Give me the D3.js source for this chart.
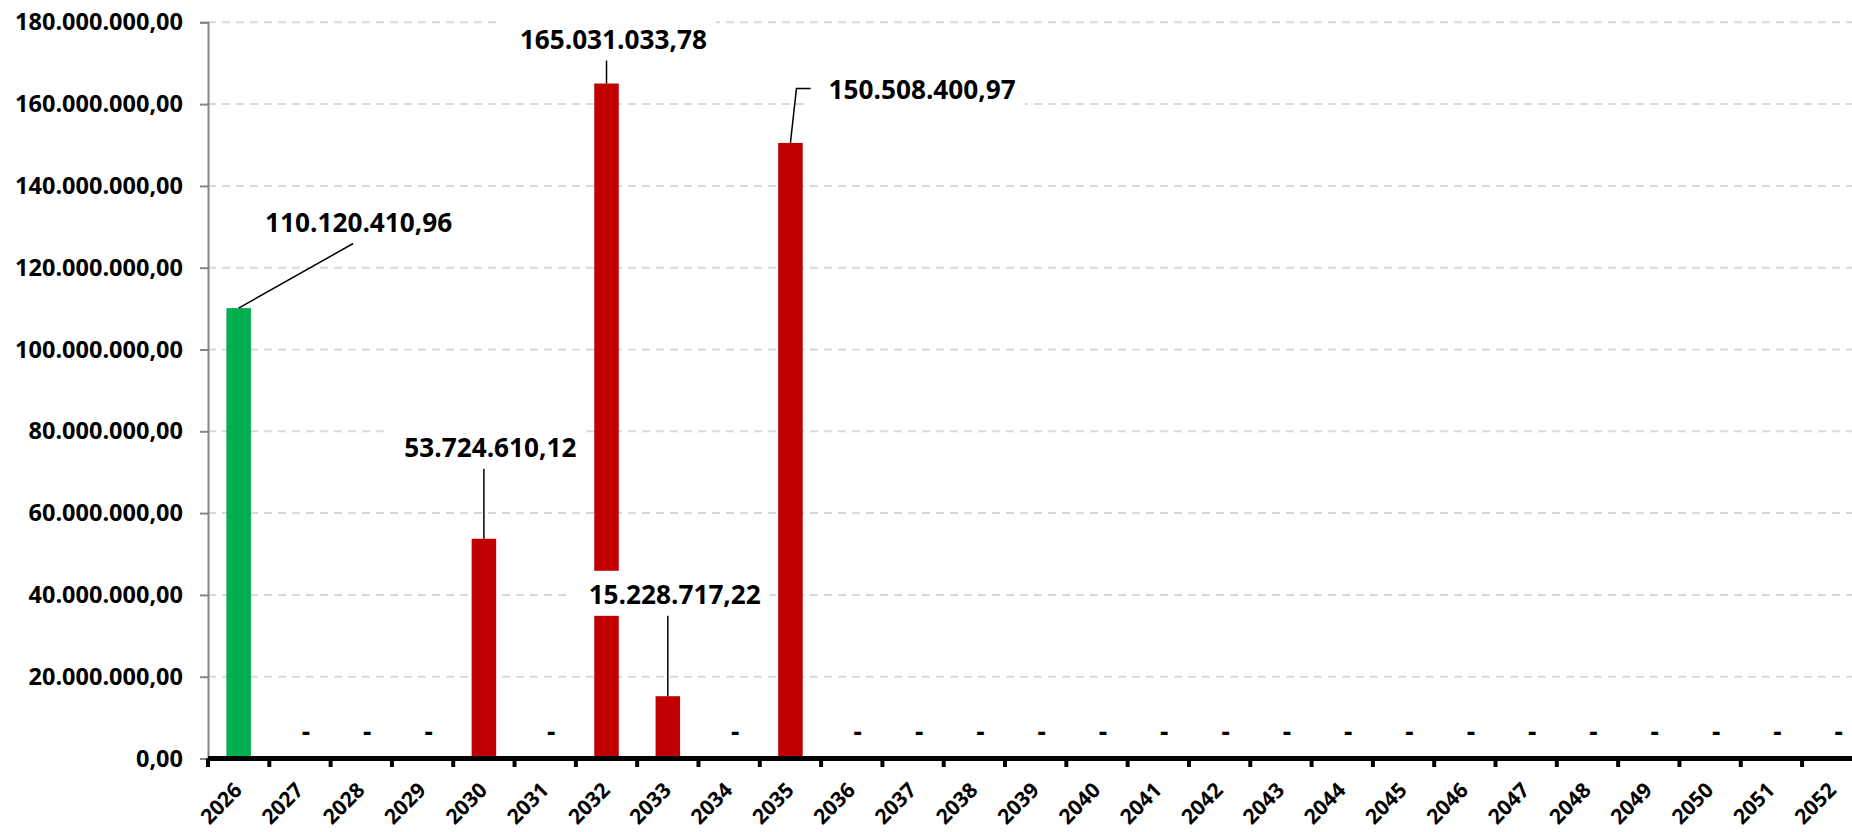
<!DOCTYPE html>
<html>
<head>
<meta charset="utf-8">
<script src="https://cdn.jsdelivr.net/npm/d3@7"></script>
<style>
  body { margin: 0; background: #fff; }
  svg { display: block; }
  text { font-family: "Open Sans", "Noto Sans", sans-serif; font-weight: 700; fill: #000; }
</style>
</head>
<body>
<div id="chart"></div>
<script>
// data
const years = d3.range(2026, 2053).map(String);
const values = [
  110120410.96, 0, 0, 0, 53724610.12, 0, 165031033.78, 15228717.22, 0, 150508400.97,
  0, 0, 0, 0, 0, 0, 0, 0, 0, 0, 0, 0, 0, 0, 0, 0, 0
];
const barColors = { "2026": "#00B050" };
const defaultColor = "#C00000";
const yTicks = [0, 20e6, 40e6, 60e6, 80e6, 100e6, 120e6, 140e6, 160e6, 180e6];

// manual label placement (offset of text centre/baseline from bar top centre)
const labelPlacement = {
  "2026": { dx: 120, dy: -76.6, leader: "diag" },
  "2030": { dx: 6.5, dy: -82, leader: "down" },
  "2032": { dx: 6.8, dy: -35, leader: "down" },
  "2033": { dx: 6.9, dy: -92.4, leader: "down" },
  "2035": { dx: 131.7, dy: -43.8, leader: "elbow" }
};

const width = 1852;
const height = 832;
const left = 208;
const bandW = 61.31;

const fmt = v => {
  const s = v.toFixed(2).split(".");
  return s[0].replace(/\B(?=(\d{3})+(?!\d))/g, ".") + "," + s[1];
};
const fmtTick = v => v === 0 ? "0,00" : fmt(v);

const svg = d3.select("#chart").append("svg")
  .attr("width", width)
  .attr("height", height);

const x = d3.scaleBand()
  .domain(years)
  .range([left, left + bandW * years.length])
  .paddingInner(0.6)
  .paddingOuter(0.3);

const y = d3.scaleLinear()
  .domain([0, 180e6])
  .range([758.5, 22.3]);

// gridlines
svg.append("g").selectAll("line")
  .data(yTicks.filter(d => d > 0))
  .join("line")
  .attr("x1", left).attr("x2", width)
  .attr("y1", d => y(d)).attr("y2", d => y(d))
  .attr("stroke", "#D9D9D9")
  .attr("stroke-width", 2)
  .attr("stroke-dasharray", "8,6");

// y axis
const yAxis = svg.append("g")
  .attr("transform", `translate(${left},0)`)
  .call(d3.axisLeft(y).tickValues(yTicks).tickFormat(fmtTick).tickSize(8).tickPadding(17));
yAxis.select(".domain").attr("stroke", "#868686").attr("stroke-width", 2);
yAxis.selectAll(".tick line").attr("stroke", "#868686").attr("stroke-width", 2);
yAxis.selectAll(".tick text")
  .style("font-size", "23.5px")
  .attr("fill", "#000");

// bars
svg.append("g").selectAll("rect")
  .data(years.map((yr, i) => ({ yr, v: values[i] })).filter(d => d.v > 0))
  .join("rect")
  .attr("x", d => x(d.yr))
  .attr("y", d => y(d.v))
  .attr("width", x.bandwidth())
  .attr("height", d => y(0) - y(d.v))
  .attr("fill", d => barColors[d.yr] || defaultColor);

// zero labels
svg.append("g").selectAll("text")
  .data(years.map((yr, i) => ({ yr, v: values[i] })).filter(d => d.v === 0))
  .join("text")
  .attr("x", d => x(d.yr) + x.bandwidth() / 2 + 6)
  .attr("y", 741)
  .attr("text-anchor", "middle")
  .style("font-size", "26px")
  .text("-");

// x axis
const bandStep = x.step();
const xAxisG = svg.append("g");
xAxisG.append("line")
  .attr("x1", left).attr("x2", width)
  .attr("y1", y(0)).attr("y2", y(0))
  .attr("stroke", "#000").attr("stroke-width", 5);
xAxisG.selectAll("line.tk")
  .data(d3.range(years.length + 1))
  .join("line")
  .attr("class", "tk")
  .attr("x1", i => left + i * bandStep).attr("x2", i => left + i * bandStep)
  .attr("y1", y(0)).attr("y2", y(0) + 8.5)
  .attr("stroke", "#000").attr("stroke-width", 4);
xAxisG.selectAll("text")
  .data(years)
  .join("text")
  .attr("transform", d => `translate(${x(d) + x.bandwidth() / 2 + 4.7},${y(0) + 33}) rotate(-45)`)
  .attr("text-anchor", "end")
  .style("font-size", "21px")
  .text(d => d);

// data labels
const labelG = svg.append("g");
years.forEach((yr, i) => {
  const p = labelPlacement[yr];
  if (!p) return;
  const bx = x(yr) + x.bandwidth() / 2;
  const by = y(values[i]);
  const tx = bx + p.dx;
  const ty = by + p.dy;
  const g = labelG.append("g");
  const rect = g.append("rect").attr("fill", "#fff");
  const t = g.append("text")
    .attr("x", tx).attr("y", ty)
    .attr("text-anchor", "middle")
    .style("font-size", "26.2px")
    .text(fmt(values[i]));
  const bb = t.node().getBBox();
  const x0 = bb.x - 20, x1 = bb.x + bb.width + 9;
  const y0 = ty - 33, y1 = ty + 12;
  rect.attr("x", x0).attr("y", y0).attr("width", x1 - x0).attr("height", y1 - y0);
  const cx = (x0 + x1) / 2;
  let pts;
  if (p.leader === "elbow") {
    const my = (y0 + y1) / 2;
    pts = [[bx, by], [bx + 6, my], [x0 + 2, my]];
  } else if (p.leader === "diag") {
    pts = [[bx, by], [cx, y1]];
  } else {
    pts = [[bx, y1], [bx, by]];
  }
  labelG.append("path")
    .attr("d", d3.line()(pts))
    .attr("fill", "none")
    .attr("stroke", "#000")
    .attr("stroke-width", 1.5);
});
</script>
</body>
</html>
